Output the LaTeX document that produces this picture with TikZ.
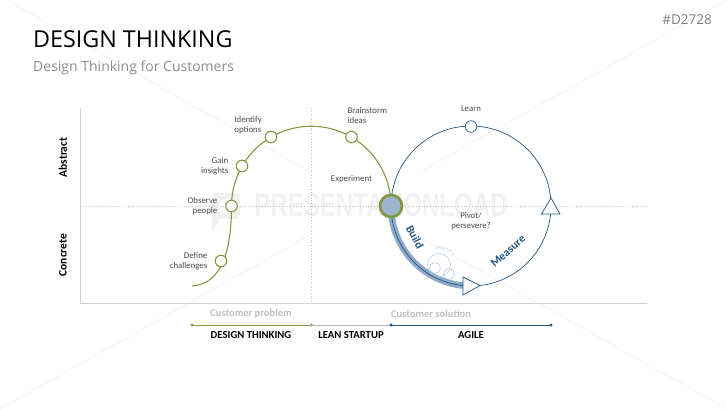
\documentclass[tikz,border=0pt]{standalone}
\usepackage{fontspec}
\setmainfont{Carlito}
\newfontfamily\titlefont{Open Sans}
\newfontfamily\markfont{Liberation Sans}
\usepackage{tikz}
\usetikzlibrary{calc,positioning,arrows.meta,decorations.text}
\definecolor{dtgreen}{RGB}{130,152,66}
\definecolor{dtblue}{RGB}{36,88,130}
\definecolor{dtband}{RGB}{143,170,200}
\definecolor{dtfill}{RGB}{157,180,207}
\definecolor{dtpale}{RGB}{185,205,225}
\definecolor{axisgrey}{RGB}{208,208,208}
\definecolor{wmgrey}{RGB}{241,241,241}
\definecolor{textgrey}{RGB}{72,72,72}
\tikzset{
  greenline/.style={draw=dtgreen,line width=1.1pt},
  blueline/.style={draw=dtblue,line width=0.7pt},
  axisline/.style={draw=axisgrey,line width=0.9pt},
  dotline/.style={draw=black!24,line width=0.8pt,dotted},
  wmline/.style={draw=wmgrey,line width=0.7pt},
  stopdot/.style={circle,draw=dtgreen,fill=white,line width=1.1pt,minimum size=11.5pt,inner sep=0pt},
  flag/.style={draw=dtblue,fill=white,line width=0.7pt,line join=miter},
  smalltext/.style={font=\fontsize{8.8}{10}\selectfont,text=textgrey,align=center,inner sep=0pt},
  axistext/.style={font=\fontsize{11.5}{12}\selectfont\bfseries,text=black,inner sep=0pt},
  greyhead/.style={font=\fontsize{10.5}{12}\selectfont\bfseries,text=black!25,inner sep=0pt},
  stagehead/.style={font=\fontsize{10.7}{12}\selectfont\bfseries,text=black,inner sep=0pt},
  looptext/.style={font=\fontsize{11.5}{12}\selectfont\bfseries,text=dtblue,inner sep=0pt},
}
\newcommand{\stagebar}[3]{\draw[draw=#3,line width=1pt] (#1) -- (#2);
  \fill[#3] (#1) circle (1.6pt) (#2) circle (1.6pt);}
\begin{document}
\begin{tikzpicture}[x=1pt,y=1pt]
  \useasboundingbox (0,0) rectangle (727,-409);
  % watermark
  \draw[wmline] (7,0) -- (310,-172);
  \draw[wmline] (420,-237) -- (727,-409);
  \draw[wmline] (727,0) -- (420,-172);
  \draw[wmline] (310,-235) -- (0,-409);
  \fill[wmgrey,even odd rule,rounded corners=4pt] (212,-193) rectangle (240,-219) (219,-199) rectangle (233,-213);
  \fill[wmgrey] (212,-210) -- (219,-210) -- (219,-222) -- (212,-231) -- cycle;
  \node[font=\markfont\fontsize{33}{33}\selectfont\bfseries,text=wmgrey,xscale=0.73,inner sep=0pt] (wmark) at (381,-205) {PRESENTATIONLOAD};
  % heading
  \node[anchor=base west,font=\titlefont\fontsize{23.3}{28}\selectfont,inner sep=0pt] (title) at (33,-47.5) {DESIGN THINKING};
  \node[anchor=base west,font=\titlefont\fontsize{14}{16}\selectfont,text=black!45,inner sep=0pt] (subtitle) at (33,-71.5) {Design Thinking for Customers};
  \node[anchor=base east,font=\titlefont\fontsize{13.5}{15}\selectfont,text=black!50,inner sep=0pt] (code) at (712,-25) {\#D2728};
  % axes
  \coordinate (axtop) at (80,-108);
  \coordinate (axorigin) at (80,-303);
  \coordinate (axright) at (647,-303);
  \coordinate (midtop) at (311,-108);
  \coordinate (midbot) at (311,-303);
  \coordinate (levleft) at (80,-206);
  \coordinate (levright) at (647,-206);
  \draw[axisline] (axtop) -- (axorigin) -- (axright);
  \draw[dotline] (levleft) -- (levright);
  \draw[dotline] (midtop) -- (midbot);
  \node[axistext,rotate=90] (abstract) at (63,-157.5) {Abstract};
  \node[axistext,rotate=90] (concrete) at (63,-255) {Concrete};
  % green curve
  \coordinate (gstart) at (192,-286);
  \coordinate (gobs) at (231.5,-206);
  \coordinate (hub) at (391,-206);
  \draw[greenline] (gstart) .. controls (222,-284) and (231.5,-250) .. (gobs)
    arc[start angle=180,end angle=0,radius=79.75pt];
  % blue loop
  \coordinate (bbot) at (471,-286);
  \draw[blueline] (hub) arc[start angle=180,end angle=-90,radius=80pt];
  \draw[draw=dtband,line width=6.5pt] (hub) arc[start angle=180,end angle=265,radius=80pt];
  \draw[draw=dtblue,line width=0.7pt] (hub) arc[start angle=180,end angle=265,radius=80pt];
  % small circles
  \begin{scope}[draw=dtpale,line width=0.6pt]
    \draw (439,-265) circle (11.5pt);
    \draw (435,-268) circle (5.5pt);
    \draw (449,-274) circle (5.5pt);
  \end{scope}
  \path[postaction={decorate,decoration={text along path,text align=center,
      text={|\fontsize{4.8}{5}\selectfont\color{dtpale}|persevere}}}]
    (431,-251) .. controls (438,-247) and (449,-248) .. (456,-260);
  % stops
  \node[stopdot] (define) at (221,-261) {};
  \node[stopdot] (observe) at (231.5,-206) {};
  \node[stopdot] (gain) at (242,-166) {};
  \node[stopdot] (identify) at (271,-137) {};
  \node[stopdot] (brain) at (351.5,-137) {};
  \node[stopdot,draw=dtblue,line width=0.7pt] (learn) at (471,-126.5) {};
  \node[circle,draw=dtgreen,fill=dtfill,line width=2.8pt,minimum size=22pt,inner sep=0pt] (hubdot) at (hub) {};
  \draw[flag] (463,-277) -- (480,-285.5) -- (463,-295) -- cycle;
  \draw[flag] (551,-198) -- (560,-214) -- (541.5,-214) -- cycle;
  % labels
  \node[smalltext,align=right,anchor=east] (lbdefine) at (207.5,-261) {Define\\challenges};
  \node[smalltext,align=right,anchor=east] (lbobserve) at (217.5,-206) {Observe\\people};
  \node[smalltext,align=right,anchor=east] (lbgain) at (228.5,-166) {Gain\\insights};
  \node[smalltext,align=left,anchor=east] (lbidentify) at (262,-125) {Identify\\options};
  \node[smalltext,align=left,anchor=west] (lbbrain) at (347.5,-115.5) {Brainstorm\\ideas};
  \node[smalltext] (lblearn) at (471,-109) {Learn};
  \node[smalltext] (lbexp) at (351.5,-179) {Experiment};
  \node[smalltext] (lbpivot) at (471,-221) {Pivot/\\persevere?};
  \node[looptext,rotate=-62] (build) at (415,-237) {Build};
  \node[looptext,rotate=42] (measure) at (508,-251) {Measure};
  % bottom scale
  \node[greyhead] (custprob) at (251,-314) {Customer problem};
  \node[greyhead] (custsol) at (431,-314) {Customer solution};
  \coordinate (barA) at (192,-325);
  \coordinate (barB) at (311.5,-325);
  \coordinate (barC) at (391,-325);
  \coordinate (barD) at (551,-325);
  \stagebar{barA}{barB}{dtgreen}
  \stagebar{barB}{barC}{black!30}
  \stagebar{barC}{barD}{dtblue}
  \node[stagehead] (dthink) at (251,-335) {DESIGN THINKING};
  \node[stagehead] (lean) at (351,-335) {LEAN STARTUP};
  \node[stagehead] (agile) at (471,-335) {AGILE};
\end{tikzpicture}
\end{document}
